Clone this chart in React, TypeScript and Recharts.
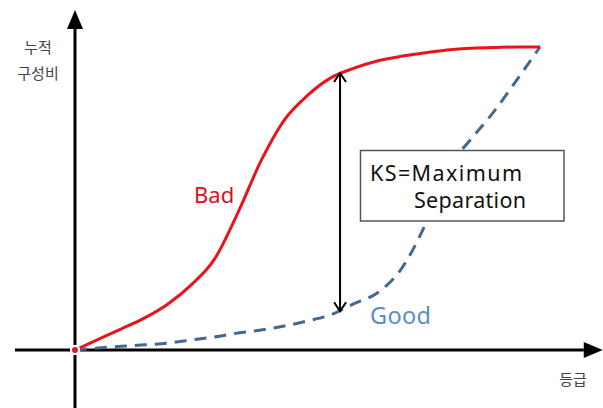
import React from "react";
import { LineChart, Line, XAxis, YAxis, ReferenceLine } from "recharts";

// 등급 (x) and 누적 구성비 (y), both on a 0-100 scale
const grades = [0, 5, 10, 15, 20, 25, 30, 35, 40, 45, 50, 55, 60, 65, 70, 75, 80, 85, 90, 95, 100];
const badShare = [0, 3.5, 7, 10.6, 15.2, 21.5, 30, 45.2, 62.4, 75.9, 84, 89.8, 93, 95.4, 96.9, 98, 99, 99.6, 99.8, 100, 100];
const goodShare = [0, 0.7, 1.2, 1.7, 2.3, 3.3, 4.3, 5.6, 6.6, 7.9, 9.6, 11.6, 15.3, 18.8, 26.4, 40.3, 59.4, 69.3, 78.5, 89.1, 100];

// KS = maximum separation
const ksGrade = 57;
const ksBad = 91.4;
const ksGood = 12.8;

const data = grades.map((g, i) => ({ grade: g, bad: badShare[i], good: goodShare[i] }));

const W = 603;
const H = 408;

// filled arrow head at the second point
const AxisArrow = (props: any) => {
  const { x1, y1, x2, y2 } = props;
  const dx = x2 - x1;
  const dy = y2 - y1;
  const len = Math.hypot(dx, dy) || 1;
  const ux = dx / len;
  const uy = dy / len;
  const head = 19;
  const half = 8;
  const bx = x2 - ux * head;
  const by = y2 - uy * head;
  return (
    <g>
      <line x1={x1} y1={y1} x2={bx} y2={by} stroke="#000" strokeWidth={3} />
      <polygon
        points={`${x2},${y2} ${bx - uy * half},${by + ux * half} ${bx + uy * half},${by - ux * half}`}
        fill="#000"
      />
    </g>
  );
};

// open arrow heads at both ends
const KsArrow = (props: any) => {
  const { x1, y1, y2 } = props;
  const top = Math.min(y1, y2);
  const bottom = Math.max(y1, y2);
  const x = x1;
  return (
    <g stroke="#000" strokeWidth={2} fill="none">
      <line x1={x} y1={top} x2={x} y2={bottom} />
      <polyline points={`${x - 6},${top + 9} ${x},${top} ${x + 6},${top + 9}`} />
      <polyline points={`${x - 6},${bottom - 9} ${x},${bottom} ${x + 6},${bottom - 9}`} />
    </g>
  );
};

export default function App() {
  return (
    <div style={{ position: "absolute", left: 0, top: 0, width: W, height: H, background: "#fff" }}>
      <LineChart width={W} height={H} data={data} margin={{ top: 0, right: 0, left: 0, bottom: 0 }}>
        <XAxis dataKey="grade" type="number" hide domain={[-16.13, 113.55]} allowDataOverflow />
        <YAxis type="number" hide domain={[-19.14, 115.51]} allowDataOverflow />
        <ReferenceLine
          segment={[{ x: -12.9, y: 0 }, { x: 113.5, y: 0 }]}
          ifOverflow="visible"
          shape={AxisArrow}
        />
        <ReferenceLine
          segment={[{ x: 0, y: -19.1 }, { x: 0, y: 112.2 }]}
          ifOverflow="visible"
          shape={AxisArrow}
        />
        <Line
          type="monotone"
          dataKey="good"
          stroke="#44698f"
          strokeWidth={3}
          strokeDasharray="12 8"
          dot={false}
          isAnimationActive={false}
        />
        <Line
          type="monotone"
          dataKey="bad"
          stroke="#e8141c"
          strokeWidth={3}
          dot={false}
          isAnimationActive={false}
        />
        <ReferenceLine
          segment={[{ x: ksGrade, y: ksBad }, { x: ksGrade, y: ksGood }]}
          ifOverflow="visible"
          shape={KsArrow}
        />
      </LineChart>
      <svg
        width={W}
        height={H}
        style={{ position: "absolute", left: 0, top: 0, pointerEvents: "none" }}
      >
        <g fontFamily="'Noto Sans CJK KR', sans-serif" fontSize={15} fill="#444" textAnchor="middle">
          <text x={38} y={53}>누적</text>
          <text x={38} y={79}>구성비</text>
          <text x={573} y={385}>등급</text>
        </g>
        <text x={194} y={203} fontFamily="'Noto Sans', sans-serif" fontSize={22} fill="#e0101a">
          Bad
        </text>
        <text x={370} y={324} fontFamily="'Noto Sans', sans-serif" fontSize={23.5} fill="#5b8ec4" textLength={61}>
          Good
        </text>
        <rect x={360.5} y={150.5} width={203.5} height={70.5} fill="#fff" stroke="#555" strokeWidth={1.5} />
        <g fontFamily="'Noto Sans', sans-serif" fontSize={21.5} fill="#111">
          <text x={370} y={181} textLength={152}>KS=Maximum</text>
          <text x={414} y={207.5} textLength={112}>Separation</text>
        </g>
      </svg>
    </div>
  );
}
